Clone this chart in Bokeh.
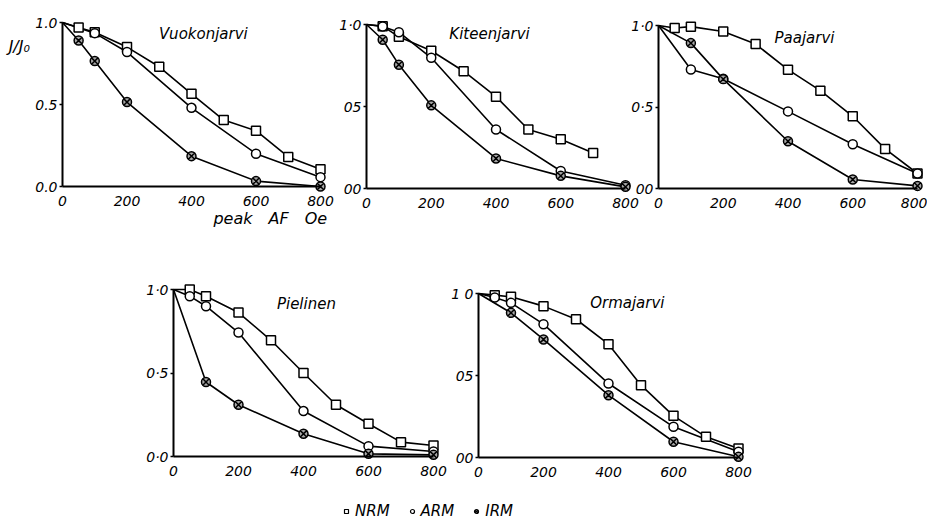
from bokeh.plotting import figure
from bokeh.models import Range1d, FixedTicker, Label, Legend, LegendItem
from bokeh.layouts import row, column
from bokeh.embed import file_html
from bokeh.resources import INLINE

FONT = "DejaVu Sans"

# ---------------- data (peak AF in Oe, J/J0) ----------------
x_ticks = [0, 200, 400, 600, 800]
y_ticks = [0.0, 0.5, 1.0]

names = ["Vuokonjarvi", "Kiteenjarvi", "Paajarvi", "Pielinen", "Ormajarvi"]
y_tick_labels = [
    ["0.0", "0.5", "1.0"],
    ["00", "05", "1·0"],
    ["00", "0·5", "1·0"],
    ["0·0", "0·5", "1·0"],
    ["00", "05", "1 0"],
]

vk_nrm_x = [0, 50, 100, 200, 300, 400, 500, 600, 700, 800]
vk_nrm = [1.0, 0.97, 0.94, 0.85, 0.73, 0.565, 0.405, 0.34, 0.18, 0.105]
vk_arm_x = [0, 100, 200, 400, 600, 800]
vk_arm = [1.0, 0.935, 0.82, 0.48, 0.2, 0.057]
vk_irm_x = [0, 50, 100, 200, 400, 600, 800]
vk_irm = [1.0, 0.89, 0.765, 0.515, 0.185, 0.033, 0.0]

ki_nrm_x = [0, 50, 100, 200, 300, 400, 500, 600, 700]
ki_nrm = [1.0, 0.99, 0.925, 0.84, 0.715, 0.56, 0.36, 0.30, 0.217]
ki_arm_x = [0, 50, 100, 200, 400, 600, 800]
ki_arm = [1.0, 0.988, 0.953, 0.797, 0.36, 0.107, 0.02]
ki_irm_x = [0, 50, 100, 200, 400, 600, 800]
ki_irm = [1.0, 0.907, 0.755, 0.507, 0.183, 0.077, 0.01]

pa_nrm_x = [0, 50, 100, 200, 300, 400, 500, 600, 700, 800]
pa_nrm = [1.0, 0.985, 0.993, 0.963, 0.886, 0.729, 0.60, 0.443, 0.243, 0.092]
pa_arm_x = [0, 100, 200, 400, 600, 800]
pa_arm = [1.0, 0.73, 0.673, 0.473, 0.271, 0.092]
pa_irm_x = [0, 100, 200, 400, 600, 800]
pa_irm = [1.0, 0.892, 0.671, 0.29, 0.055, 0.016]

pi_nrm_x = [0, 50, 100, 200, 300, 400, 500, 600, 700, 800]
pi_nrm = [1.0, 1.0, 0.96, 0.862, 0.696, 0.50, 0.31, 0.196, 0.086, 0.066]
pi_arm_x = [0, 50, 100, 200, 400, 600, 800]
pi_arm = [1.0, 0.96, 0.90, 0.742, 0.272, 0.062, 0.03]
pi_irm_x = [0, 100, 200, 400, 600, 800]
pi_irm = [1.0, 0.446, 0.31, 0.136, 0.016, 0.01]

or_nrm_x = [0, 50, 100, 200, 300, 400, 500, 600, 700, 800]
or_nrm = [1.0, 0.99, 0.98, 0.923, 0.843, 0.691, 0.441, 0.254, 0.126, 0.055]
or_arm_x = [0, 50, 100, 200, 400, 600, 800]
or_arm = [1.0, 0.976, 0.943, 0.813, 0.451, 0.187, 0.035]
or_irm_x = [0, 100, 200, 400, 600, 800]
or_irm = [1.0, 0.882, 0.72, 0.38, 0.096, 0.004]

series = [
    ((vk_nrm_x, vk_nrm), (vk_arm_x, vk_arm), (vk_irm_x, vk_irm)),
    ((ki_nrm_x, ki_nrm), (ki_arm_x, ki_arm), (ki_irm_x, ki_irm)),
    ((pa_nrm_x, pa_nrm), (pa_arm_x, pa_arm), (pa_irm_x, pa_irm)),
    ((pi_nrm_x, pi_nrm), (pi_arm_x, pi_arm), (pi_irm_x, pi_irm)),
    ((or_nrm_x, or_nrm), (or_arm_x, or_arm), (or_irm_x, or_irm)),
]
legend_labels = ["NRM", "ARM", "IRM"]

# ---------------- layout (pixels) ----------------
# pixel positions of x=0, x=800, y=1, y=0 for each panel
GEOM = [
    (62, 320, 22, 186),
    (366, 625, 24, 188),
    (658, 917, 25, 188),
    (173, 433, 289, 456),
    (478, 738, 293, 457),
]
# frame rectangles (left, top, right, bottom), generous so labels sit inside
FRAMES = [
    (0, 0, 345, 232),
    (325, 0, 645, 232),
    (620, 0, 927, 232),
    (130, 272, 450, 486),
    (440, 272, 927, 486),
]
# title positions in data units
TITLE_POS = [(437, 0.927), (380, 0.94), (451, 0.926), (409, 0.916), (458, 0.94)]
BL, BB = 40, 40          # left / bottom borders (axis side panels, left empty)
W = 927
ROW1_TOP, ROW2_TOP, LEG_TOP, LEG_H = 0, 272, 486, 37

MARKERS = [
    dict(marker="square", size=9, fill_color="white"),
    dict(marker="circle", size=9, fill_color="white"),
    dict(marker="circle_x", size=9, fill_color="#a8a8a8"),
]


def make_panel(i, margin):
    x0, x8, y1, y0 = GEOM[i]
    L, T, R, B = FRAMES[i]
    sx = (x8 - x0) / 800.0
    sy = float(y0 - y1)
    p = figure(
        frame_width=R - L, frame_height=B - T,
        min_border_left=BL, min_border_right=0,
        min_border_top=0, min_border_bottom=BB,
        x_range=Range1d((L - x0) / sx, (R - x0) / sx),
        y_range=Range1d((y0 - B) / sy, (y0 - T) / sy),
        output_backend="svg", toolbar_location=None,
        border_fill_color=None, background_fill_color=None,
        outline_line_color=None,
        margin=margin,
    )
    p.grid.visible = False
    for ax in (p.xaxis[0], p.yaxis[0]):
        ax.axis_line_width = 2
        ax.axis_line_color = "black"
        ax.minor_tick_line_color = None
        ax.major_label_text_font = FONT
        ax.major_label_text_font_style = "italic"
        ax.major_label_text_font_size = "14px"
        ax.major_label_text_color = "black"
        ax.fixed_location = 0
    xa = p.xaxis[0]
    xa.ticker = FixedTicker(ticks=x_ticks)
    xa.bounds = (0, 800)
    xa.major_tick_in = 0
    xa.major_tick_out = 0
    xa.major_label_standoff = 9
    ya = p.yaxis[0]
    ya.ticker = FixedTicker(ticks=y_ticks)
    ya.bounds = (0, 1)
    ya.major_tick_in = 0
    ya.major_tick_out = 3
    ya.major_tick_line_width = 1.5
    ya.major_label_standoff = 2
    ya.major_label_text_baseline = "alphabetic"
    ya.major_label_overrides = {t: s for t, s in zip(y_ticks, y_tick_labels[i])}

    for (xs, ys) in series[i]:
        p.line(xs, ys, line_color="black", line_width=1.6)
    for (xs, ys), m in zip(series[i], MARKERS):
        p.scatter(xs[1:], ys[1:], marker=m["marker"], size=m["size"],
                  fill_color=m["fill_color"], line_color="black", line_width=1.5)

    tx, ty = TITLE_POS[i]
    p.add_layout(Label(x=tx, y=ty, text=names[i], text_font=FONT,
                       text_font_style="italic", text_font_size="15px",
                       text_align="center", text_baseline="middle",
                       text_color="black"))
    return p


def canvas_h(i):
    return FRAMES[i][3] - FRAMES[i][1] + BB


# top row: margins = (top, right, bottom, left)
row1 = []
prev_right = 0
for i in range(3):
    L, T, R, B = FRAMES[i]
    ml = (L - BL) - prev_right
    mt = T - ROW1_TOP
    mb = (ROW2_TOP - ROW1_TOP) - mt - canvas_h(i)
    row1.append(make_panel(i, (mt, 0, mb, ml)))
    prev_right = R

p1 = row1[0]
p1.add_layout(Label(x=-167, y=0.854, text="J/J₀", text_font=FONT,
                    text_font_style="italic", text_font_size="16px",
                    text_align="left", text_baseline="middle", text_color="black"))
p1.add_layout(Label(x=468, y=-0.195, text="peak\u2003AF\u2003Oe", text_font=FONT,
                    text_font_style="italic", text_font_size="16px",
                    text_align="left", text_baseline="middle", text_color="black"))

row2 = []
prev_right = 0
for i in range(3, 5):
    L, T, R, B = FRAMES[i]
    ml = (L - BL) - prev_right
    mt = T - ROW2_TOP
    mb = (LEG_TOP - ROW2_TOP) - mt - canvas_h(i)
    row2.append(make_panel(i, (mt, 0, mb, ml)))
    prev_right = R

# legend strip
pl = figure(width=W, height=LEG_H, x_range=Range1d(0, 1), y_range=Range1d(0, 1),
            x_axis_type=None, y_axis_type=None, output_backend="svg",
            toolbar_location=None, outline_line_color=None,
            min_border=0, border_fill_color=None, background_fill_color=None)
items = []
nan = float("nan")
for lab, m in zip(legend_labels, MARKERS):
    r = pl.scatter(x=[nan], y=[nan], marker=m["marker"], size=7,
                   fill_color=m["fill_color"], line_color="black", line_width=1.2)
    items.append(LegendItem(label=lab, renderers=[r]))
leg = Legend(items=items, orientation="horizontal", location=(341, 2),
             glyph_width=10, glyph_height=10, label_standoff=4, spacing=17,
             padding=0, margin=0, border_line_color=None,
             background_fill_alpha=0, label_text_font=FONT,
             label_text_font_style="italic", label_text_font_size="15px",
             label_text_color="black", label_height=20, label_width=10)
pl.add_layout(leg)

layout = column(row(*row1), row(*row2), pl)

open("out.html", "w").write(file_html(layout, INLINE))
